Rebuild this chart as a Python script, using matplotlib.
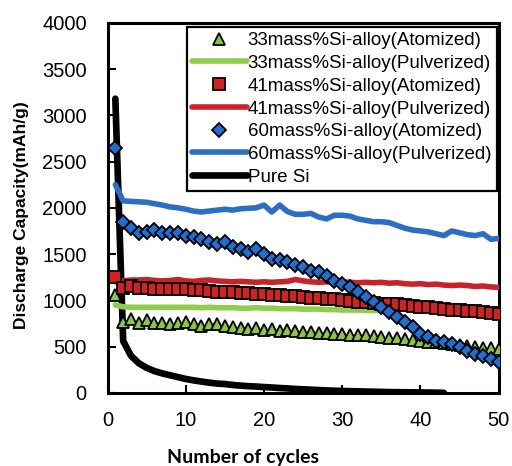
import numpy as np
import matplotlib
matplotlib.use("Agg")
import matplotlib.pyplot as plt

# cycle numbers
cycles = np.arange(1, 51)

# discharge capacity (mAh/g)
si33_atomized = [1060, 770, 800, 760, 790, 760, 750, 740, 760, 770,
                 740, 720, 740, 740, 720, 710, 700, 690, 700, 680,
                 690, 670, 680, 670, 660, 660, 650, 650, 640, 640,
                 630, 620, 620, 610, 600, 590, 590, 580, 570, 560,
                 550, 550, 540, 530, 520, 510, 500, 490, 480, 470]
si33_pulverized = [950, 930, 925, 925, 925, 925, 925, 925, 925, 925,
                   925, 920, 925, 920, 920, 920, 915, 915, 920, 915,
                   915, 910, 910, 910, 905, 905, 905, 900, 900, 895,
                   895, 895, 890, 890, 890]
si41_atomized = [1250, 1135, 1150, 1135, 1130, 1125, 1125, 1120, 1120, 1120,
                 1110, 1110, 1100, 1090, 1090, 1085, 1080, 1075, 1070, 1065,
                 1060, 1055, 1050, 1045, 1040, 1030, 1025, 1015, 1010, 1000,
                 995, 985, 980, 975, 965, 960, 955, 945, 940, 930,
                 925, 915, 910, 900, 895, 885, 880, 870, 865, 855]
si41_pulverized = [1200, 1210, 1220, 1220, 1225, 1215, 1210, 1215, 1225, 1210,
                   1205, 1215, 1220, 1210, 1205, 1200, 1205, 1200, 1195, 1200,
                   1195, 1200, 1205, 1225, 1210, 1200, 1195, 1200, 1195, 1200,
                   1195, 1190, 1195, 1190, 1195, 1185, 1190, 1180, 1175, 1180,
                   1170, 1175, 1165, 1160, 1165, 1160, 1150, 1155, 1145, 1140]
si60_atomized = [2650, 1846, 1778, 1723, 1738, 1756, 1723, 1723, 1723, 1700,
                 1687, 1668, 1632, 1614, 1632, 1578, 1557, 1521, 1557, 1503,
                 1449, 1431, 1413, 1377, 1358, 1322, 1304, 1268, 1214, 1178,
                 1142, 1087, 1040, 979, 925, 870, 816, 762, 708, 636,
                 600, 564, 545, 527, 491, 455, 419, 401, 365, 335]
si60_pulverized = [2250, 2075, 2070, 2065, 2060, 2045, 2030, 2010, 2000, 1985,
                   1965, 1955, 1965, 1975, 1985, 1975, 1990, 1995, 2000, 2030,
                   1955, 2030, 1960, 1930, 1930, 1940, 1900, 1880, 1920, 1920,
                   1910, 1880, 1865, 1850, 1850, 1840, 1810, 1780, 1760, 1750,
                   1740, 1720, 1700, 1750, 1730, 1710, 1700, 1720, 1660, 1670]
pure_si = [3180, 560, 400, 320, 270, 235, 210, 190, 170, 150,
           135, 122, 110, 100, 95, 85, 78, 72, 68, 62,
           58, 52, 48, 42, 38, 34, 30, 26, 23, 20,
           18, 16, 14, 12, 10, 8, 7, 6, 5, 4,
           3, 2, 0]

x_ticks = [0, 10, 20, 30, 40, 50]
y_ticks = [0, 500, 1000, 1500, 2000, 2500, 3000, 3500, 4000]

green = "#8fce4a"
red = "#c8232a"
blue = "#2a6fc4"

fig = plt.figure(figsize=(5.12, 4.66), dpi=100)
ax = fig.add_axes([0.210, 0.157, 0.764, 0.794])

l_si, = ax.plot(cycles[:len(pure_si)], pure_si, color="black", lw=4.8,
                solid_capstyle="round", zorder=2)
l33p, = ax.plot(cycles[:len(si33_pulverized)], si33_pulverized, color=green,
                lw=4.0, solid_capstyle="round", zorder=3)
l41p, = ax.plot(cycles, si41_pulverized, color=red, lw=4.0,
                solid_capstyle="round", zorder=3)
l60p, = ax.plot(cycles, si60_pulverized, color=blue, lw=4.0,
                solid_capstyle="round", zorder=3)
m33, = ax.plot(cycles, si33_atomized, ls="none", marker="^", ms=9,
               mfc="#8cc63f", mec="black", mew=1.3, zorder=4)
m41, = ax.plot(cycles, si41_atomized, ls="none", marker="s", ms=8.5,
               mfc="#d42020", mec="black", mew=1.3, zorder=4)
m60, = ax.plot(cycles, si60_atomized, ls="none", marker="D", ms=7.5,
               mfc="#1f6fd0", mec="black", mew=1.3, zorder=5)

ax.set_xlim(0, 50)
ax.set_ylim(0, 4000)
ax.set_xticks(x_ticks)
ax.set_yticks(y_ticks)
ax.tick_params(direction="in", length=6, width=1.5, labelsize=14.5)
ax.tick_params(axis="x", pad=13)
ax.tick_params(axis="y", pad=15)
for lab in ax.get_xticklabels() + ax.get_yticklabels():
    lab.set_family("Liberation Sans")
for sp in ax.spines.values():
    sp.set_linewidth(2.2)

ax.set_xlabel("Number of cycles", family="Lato", weight="bold",
              fontsize=14, va="center")
ax.xaxis.set_label_coords(0.346, -0.176)
ax.set_ylabel("Discharge Capacity(mAh/g)", family="Liberation Sans",
              weight="bold", fontsize=12.5, va="center")
ax.yaxis.set_label_coords(-0.22, 0.481)

leg = ax.legend([m33, l33p, m41, l41p, m60, l60p, l_si],
                ["33mass%Si-alloy(Atomized)", "33mass%Si-alloy(Pulverized)",
                 "41mass%Si-alloy(Atomized)", "41mass%Si-alloy(Pulverized)",
                 "60mass%Si-alloy(Atomized)", "60mass%Si-alloy(Pulverized)",
                 "Pure Si"],
                loc="upper right", bbox_to_anchor=(0.995, 0.99),
                prop={"family": "Liberation Sans", "size": 13.5},
                labelspacing=0.3, handlelength=2.9, handletextpad=0.05,
                borderpad=0.3, borderaxespad=0, fancybox=False,
                framealpha=1, edgecolor="black")
leg.get_frame().set_linewidth(1.6)

fig.savefig("out.png", dpi=100)
